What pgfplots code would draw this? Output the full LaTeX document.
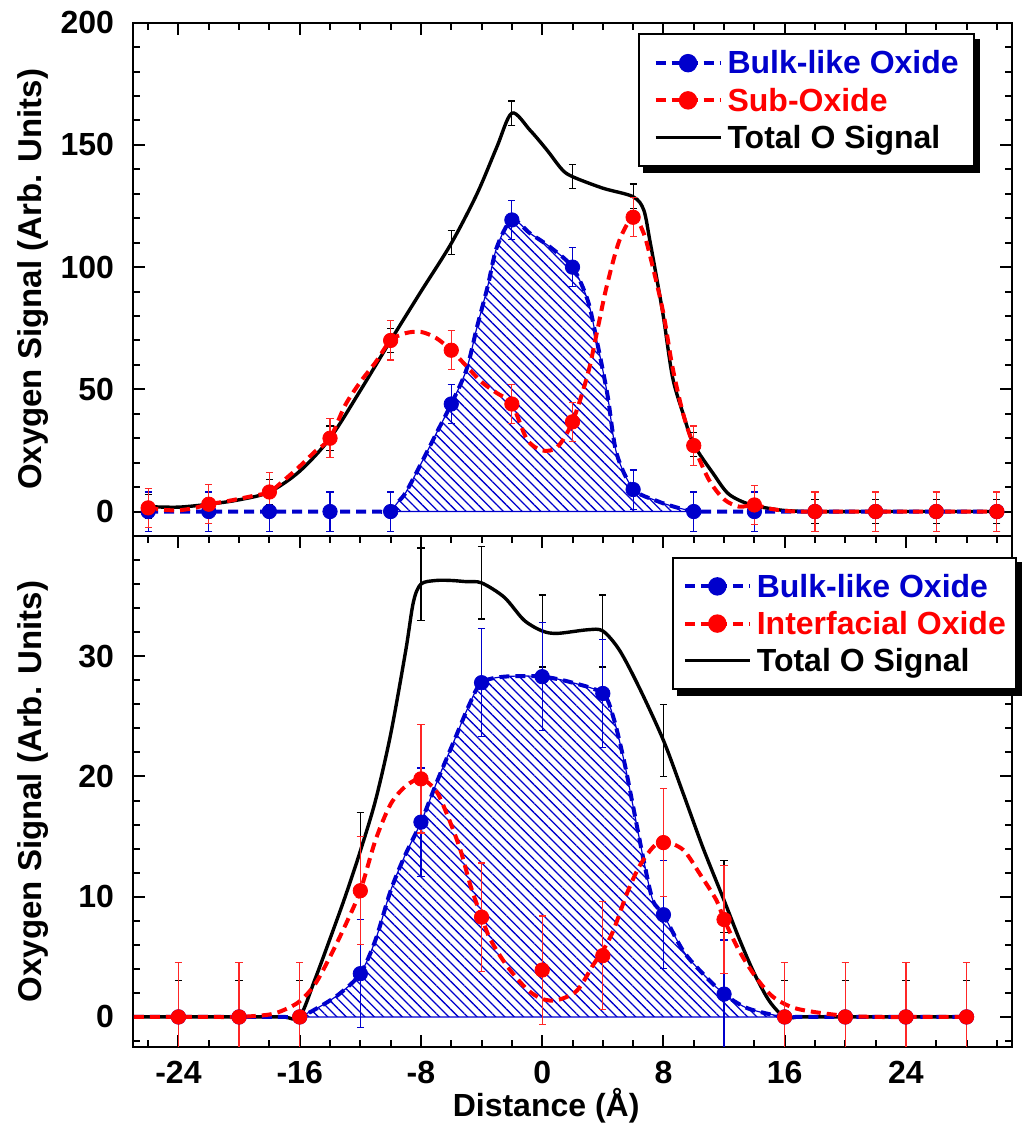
\documentclass[border=0pt]{standalone}
\usepackage{fontspec}
\setmainfont{Liberation Sans}
\usepackage{pgfplots}
\usepackage{pgfplotstable}
\pgfplotsset{compat=1.18}
\usetikzlibrary{patterns.meta}
\definecolor{myblue}{RGB}{0,0,204}
\definecolor{myred}{RGB}{255,0,0}

% ---------- top panel: points with error bars ----------
\pgfplotstableread{
x b be r re t te
-26 0 8 1.5 8 2 5
-22 0 8 3 8 3 5
-18 0 8 8 8 8 5
-14 0 8 30 8 30 5
-10 0 8 70 8 70 5
-6 44 8 66 8 110 5
-2 119.3 8 44 8 163 5
2 100 8 36.7 8 137 5
6 9 8 120.4 8 129 5
10 0 8 27 8 27.5 5
14 0 8 2.7 8 2.7 5
18 0 8 0 8 0 5
22 0 8 0 8 0 5
26 0 8 0 8 0 5
30 0 8 0 8 0 5
}\toppts

\pgfplotstableread{
x y
-26 1.5
-25 0.7
-24 0.5
-23 1.4
-22 3
-21 4
-20 5.2
-19 6.5
-18 8
-17 13
-16 18.5
-15 24.5
-14 30
-13 43.5
-12 53
-11 61
-10 70
-9 73
-8 73.5
-7 71
-6 66
-5 59.5
-4 53
-3 48.5
-2 44
-1 29.5
0 25
1 26.4
2 36.7
3 56
3.6 73
4.25 92
5.1 111
6 120.4
6.7 113.8
7.3 100
8 81
8.6 59
9.3 40
10 27
11 13
12 5
13 2
14 2.7
15 1.2
16 0.3
17 0
20 0
30 0
}\topred

\pgfplotstableread{
x y
-26 0
-14 0
-11 0
-10 0
-9.5 4
-9 7.8
-8 19.5
-7 31.8
-6 44
-5 58
-4.3 75.5
-3.6 92
-3 108
-2 119.3
-0.8 113.8
0.5 108.3
2 100
3 86.5
3.6 70
4.3 48
4.9 24
6 9.3
7.5 4.5
8.8 1.8
10 0
11 0
14 0
30 0
}\topblue

\pgfplotstableread{
x y
-26 2
-24 1.8
-22 3
-20 4.8
-18 8
-16 16.5
-14 30
-12 49.5
-10 70
-8 90
-6 109.7
-4.3 130
-3 149
-2 163
-0.8 156
0.3 148
1.3 140
2 137
4 132.3
6 128.8
6.7 123.4
7.1 111
7.5 97.4
8 79.6
8.6 55
9.3 40
10 27.5
11.3 15.4
12.3 7.2
13.7 2.9
15.6 0.7
17 0.1
18 0
21 0
30 0
}\topblack

% ---------- bottom panel ----------
\pgfplotstableread{
x b be r re t te
-24 0 4.5 0 4.5 0 3
-20 0 4.5 0 4.5 0 3
-16 0 4.5 0 4.5 0 3
-12 3.6 4.5 10.5 4.5 14 3
-8 16.2 4.5 19.8 4.5 36 3
-4 27.8 4.5 8.3 4.5 36.1 3
0 28.3 4.5 3.9 4.5 32.1 3
4 26.9 4.5 5.1 4.5 32.1 3
8 8.5 4.5 14.5 4.5 23 3
12 1.9 4.5 8.1 4.5 10 3
16 0 4.5 0 4.5 0 3
20 0 4.5 0 4.5 0 3
24 0 4.5 0 4.5 0 3
28 0 4.5 0 4.5 0 3
}\botpts

\pgfplotstableread{
x y
-28 0
-22 0
-18 0
-17 0
-16 0
-15 3.1
-14 6.5
-13 10
-12 13.8
-11 18
-10 23.5
-9 30.5
-8.5 34.5
-8 36
-7 36.3
-6 36.3
-5 36.2
-4 36.1
-2.5 34.9
-1.2 33
0 32.1
1 31.9
3 32.2
4 32.1
5.1 30.5
6.4 27.4
8 23
9.3 18.6
10.6 14.1
12 9.7
13 6.5
14 3.6
15 1.3
16 0
17 0
18 0
22 0
28 0
}\botblack

\pgfplotstableread{
x y
-28 0
-22 0
-18 0
-17 0
-16 0
-14.75 0.8
-13.4 1.9
-12 3.6
-11 6.4
-10 10.5
-9.1 13.3
-8 16.2
-6.9 19.7
-5.8 23
-4.8 26
-4 27.8
-2.5 28.3
0 28.3
2 27.8
4 26.9
4.7 24.9
5.4 21.3
6 17.5
6.7 13
7.3 9.7
8 8.5
9.3 5.5
10.6 3.6
12 1.9
13.4 0.8
14.75 0.3
16 0
17 0
20 0
28 0
}\botblue

\pgfplotstableread{
x y
-28 0
-22 0
-20 0
-18 0.2
-17 0.6
-16 1.3
-15 2.7
-14 5
-13 7.6
-12 10.5
-11 14.7
-10 17.7
-9 19.2
-8 19.8
-7 18.8
-6.2 16.6
-5.4 13.9
-4.7 10.8
-4 8.3
-3.4 6.4
-2.3 4.2
-1 2.3
0 1.5
1 1.4
2.3 2.2
3.4 4.4
4 5.5
4.7 7.2
5.6 10.3
6.4 12.5
7.3 14.1
8 14.6
9.3 13.9
10.4 11.9
11.5 9.7
12 8.1
13 5.5
14.1 3.3
15.2 1.7
16.5 0.8
18 0.4
20 0.1
22 0
25 0
28 0
}\botred

\pgfplotsset{
  panel/.style={
    scale only axis, width=439.5pt,
    xmin=-27, xmax=31,
    xtick={-24,-16,...,24},
    minor xtick={-26,-24,...,30},
    tick align=inside,
    major tick length=6pt, minor tick length=3.5pt,
    every tick/.style={black, line width=1pt},
    axis line style={line width=1pt},
    tick label style={font=\bfseries\fontsize{16}{19}\selectfont},
    /pgf/number format/assume math mode=true,
    yticklabel style={xshift=-6pt},
    xticklabel style={yshift=-3.7pt},
    every axis y label/.style={at={(axis description cs:-0.1038,0.5)}, rotate=90, anchor=base, font=\bfseries\fontsize{16.5}{19}\selectfont},
    legend cell align=left,
    legend image code/.code={\draw[mark repeat=2,mark phase=2,##1] plot coordinates {(0pt,0pt) (16.25pt,0pt) (32.5pt,0pt)};},
    legend style={draw=black, line width=1pt, fill=white,
      font=\bfseries\fontsize{16}{19}\selectfont,
      nodes={inner sep=0pt, text height=10.7pt, text depth=0pt},
      row sep=7.9pt, column sep=2.5pt, inner ysep=9pt},
  },
  curveb/.style={myblue, line width=2pt, dash pattern=on 5pt off 3pt, smooth},
  curver/.style={myred, line width=2pt, dash pattern=on 5pt off 3pt, smooth},
  curvek/.style={black, line width=1.7pt, smooth},
  ptsb/.style={only marks, mark=*, mark size=3.6pt, myblue,
    error bars/y dir=both, error bars/y explicit,
    error bars/error bar style={line width=0.6pt, draw=myblue, solid},
    error bars/error mark options={rotate=90, mark size=1.8pt, line width=0.6pt, draw=myblue, solid}},
  ptsr/.style={only marks, mark=*, mark size=3.6pt, myred,
    error bars/y dir=both, error bars/y explicit,
    error bars/error bar style={line width=0.6pt, draw=myred!85!white, solid},
    error bars/error mark options={rotate=90, mark size=1.8pt, line width=0.6pt, draw=myred!85!white, solid}},
  ptsk/.style={draw=none, mark=none,
    error bars/y dir=both, error bars/y explicit,
    error bars/error bar style={line width=0.6pt, draw=black, solid},
    error bars/error mark options={rotate=90, mark size=1.8pt, line width=0.6pt, draw=black, solid}},
  hatch/.style={draw=myblue, line width=0.6pt, smooth,
    pattern={Lines[angle=-45,distance=3.3pt,line width=0.65pt]}, pattern color=myblue},
}

\begin{document}
\begin{tikzpicture}
\path[use as bounding box] (-66.5pt,-40.5pt) rectangle (447pt,523.5pt);

% ===== top panel =====
\begin{axis}[panel, at={(0pt,255.5pt)}, anchor=south west, height=256.65pt,
  ymin=-10, ymax=200, ytick={0,50,...,200}, minor ytick={-10,0,...,200},
  xtick pos=right, xticklabels={},
  ylabel={Oxygen Signal (Arb. Units)},
  legend style={name=legtop, at={(axis description cs:0.574,0.979)}, anchor=north west, inner xsep=7.5pt}]
  \addlegendimage{myblue, line width=2pt, dash pattern=on 5pt off 3pt, mark=*, mark size=3.6pt, mark options={solid}}
  \addlegendentry{\textcolor{myblue}{Bulk-like Oxide}}
  \addlegendimage{myred, line width=2pt, dash pattern=on 5pt off 3pt, mark=*, mark size=3.6pt, mark options={solid}}
  \addlegendentry{\textcolor{myred}{Sub-Oxide}}
  \addlegendimage{black, line width=1.7pt}
  \addlegendentry{Total O Signal}

  \addplot[forget plot, hatch, restrict x to domain=-10:10] table[x=x,y=y] {\topblue} \closedcycle;
  \addplot[forget plot, curvek] table[x=x,y=y] {\topblack};
  \addplot[forget plot, curveb] table[x=x,y=y] {\topblue};
  \addplot[forget plot, curver] table[x=x,y=y] {\topred};
  \addplot[forget plot, ptsk] table[x=x,y=t,y error=te] {\toppts};
  \addplot[forget plot, ptsb] table[x=x,y=b,y error=be] {\toppts};
  \addplot[forget plot, ptsr] table[x=x,y=r,y error=re] {\toppts};
\end{axis}
\fill[black] ([yshift=-2.7pt]legtop.north east) rectangle ([shift={(2.7pt,-2.7pt)}]legtop.south east);
\fill[black] ([xshift=2.7pt]legtop.south west) rectangle ([shift={(2.7pt,-2.7pt)}]legtop.south east);

% ===== bottom panel =====
\begin{axis}[panel, at={(0pt,0pt)}, anchor=south west, height=255.5pt,
  ymin=-2.5, ymax=40, ytick={0,10,20,30}, minor ytick={-2,0,...,40},
  ylabel={Oxygen Signal (Arb. Units)},
  xlabel={Distance (Å)},
  every axis x label/.style={at={(axis description cs:0.47,0)}, anchor=base, yshift=-34.5pt, font=\bfseries\fontsize{16}{19}\selectfont},
  legend style={name=legbot, at={(axis description cs:0.613,0.9595)}, anchor=north west, inner xsep=5pt}]
  \addlegendimage{myblue, line width=2pt, dash pattern=on 5pt off 3pt, mark=*, mark size=3.6pt, mark options={solid}}
  \addlegendentry{\textcolor{myblue}{Bulk-like Oxide}}
  \addlegendimage{myred, line width=2pt, dash pattern=on 5pt off 3pt, mark=*, mark size=3.6pt, mark options={solid}}
  \addlegendentry{\textcolor{myred}{Interfacial Oxide}}
  \addlegendimage{black, line width=1.7pt}
  \addlegendentry{Total O Signal}

  \addplot[forget plot, hatch, restrict x to domain=-16:16] table[x=x,y=y] {\botblue} \closedcycle;
  \addplot[forget plot, curvek] table[x=x,y=y] {\botblack};
  \addplot[forget plot, curveb] table[x=x,y=y] {\botblue};
  \addplot[forget plot, curver] table[x=x,y=y] {\botred};
  \addplot[forget plot, ptsk] table[x=x,y=t,y error=te] {\botpts};
  \addplot[forget plot, ptsb] table[x=x,y=b,y error=be] {\botpts};
  \addplot[forget plot, ptsr] table[x=x,y=r,y error=re] {\botpts};
\end{axis}
\fill[black] ([yshift=-2.7pt]legbot.north east) rectangle ([shift={(2.7pt,-2.7pt)}]legbot.south east);
\fill[black] ([xshift=2.7pt]legbot.south west) rectangle ([shift={(2.7pt,-2.7pt)}]legbot.south east);
\end{tikzpicture}
\end{document}
